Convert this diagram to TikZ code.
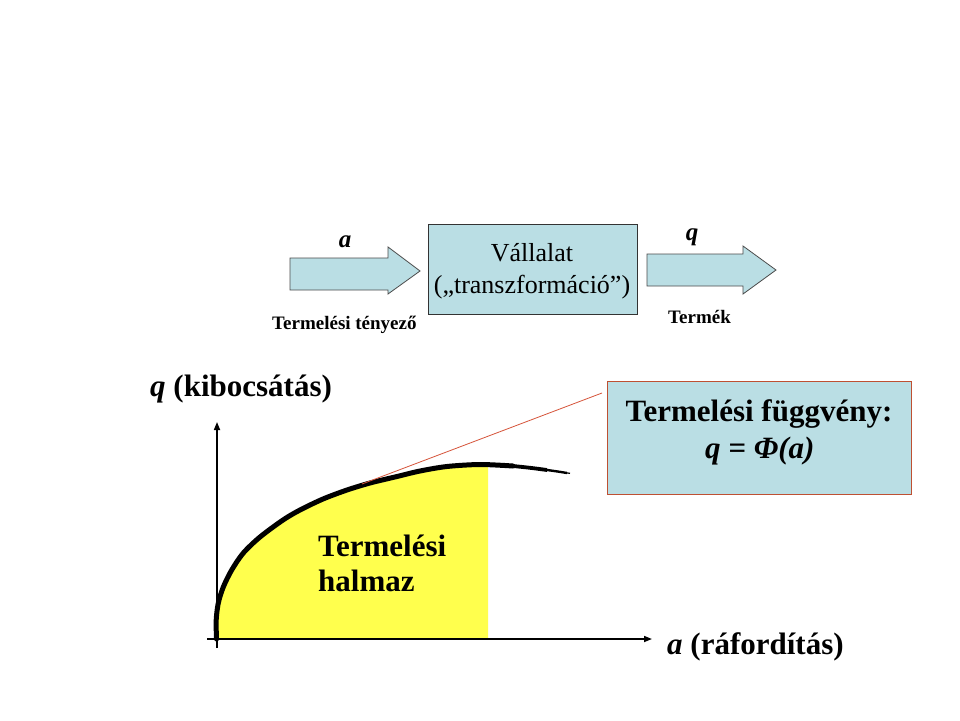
\documentclass[tikz,border=0pt]{standalone}
\usepackage{fontspec}
\setmainfont{Liberation Serif}
\usetikzlibrary{arrows.meta}
\definecolor{lblue}{RGB}{186,222,228}
\definecolor{hyellow}{RGB}{255,255,77}
\definecolor{redline}{RGB}{214,84,58}
\definecolor{redbox}{RGB}{190,80,50}
\tikzset{
  big/.style={font=\bfseries\fontsize{31}{36}\selectfont, inner sep=0pt},
  small/.style={font=\bfseries\fontsize{19}{22}\selectfont, inner sep=0pt},
  boxtxt/.style={font=\fontsize{26}{30}\selectfont, inner sep=0pt},
  varlab/.style={font=\bfseries\itshape\fontsize{25}{28}\selectfont, inner sep=0pt},
  blockarrow/.style={fill=lblue, draw=black!70, line width=0.8pt, line join=miter},
  axis/.style={line width=1.6pt, -{Triangle[length=8pt,width=6pt]}}
}
\begin{document}
\begin{tikzpicture}[x=1pt,y=-1pt]
\useasboundingbox (0,0) rectangle (960,720);
\fill[white] (0,0) rectangle (960,720);

% block arrows
\draw[blockarrow] (290,258) -- (388,258) -- (388,247) -- (420,271) -- (388,294) -- (388,290) -- (290,290) -- cycle;
\draw[blockarrow] (647,254) -- (743,254) -- (743,246) -- (776,270) -- (743,294) -- (743,286) -- (647,286) -- cycle;

% firm box
\node[draw=black!80, fill=lblue, line width=0.8pt, minimum width=209pt, minimum height=90pt, inner sep=0pt] (firm) at (532.5,269) {};
\node[boxtxt, anchor=base] (firm1) at (532,261) {Vállalat};
\node[boxtxt, anchor=base] (firm2) at (532,293) {(„transzformáció”)};

\node[varlab, anchor=base] (la) at (345,247) {a};
\node[varlab, anchor=base] (lq) at (692,240) {q};
\node[small, anchor=base west] (lin) at (272,329) {Termelési tényező};
\node[small, anchor=base west] (lout) at (668,323) {Termék};

\def\curvepts{(216.5,639) (216.2,620) (218.3,603) (223.3,587) (231.7,570) (243.3,553) (260,537) (283,520) (300,510) (323,499) (347,490) (370,483) (397,476.5) (420,471) (447,466.5) (480,464.5) (513,466)}

% yellow set
\begin{scope}
\clip (217,300) rectangle (488,639);
\fill[hyellow] plot[smooth, tension=0.5] coordinates {\curvepts (547,470)} -- (547,639) -- cycle;
\end{scope}

% axes
\coordinate (ytop) at (217,422);
\coordinate (ybot) at (217,648);
\coordinate (xl) at (207,639);
\coordinate (xr) at (652,639);
\draw[axis] (ybot) -- (ytop);
\draw[axis] (xl) -- (xr);

% curve
\draw[line width=5pt, line cap=round] plot[smooth, tension=0.5] coordinates {\curvepts};
\draw[line width=3.8pt] plot[smooth, tension=0.6] coordinates {(511,465.8) (530,467.8) (547,470)};
\draw[line width=2.4pt] plot[smooth, tension=0.6] coordinates {(545,469.7) (557,471.4) (567,473)};
\draw[line width=1.2pt] (565,472.7) -- (570,473.3);

% function box
\node[draw=redbox, fill=lblue, line width=0.8pt, minimum width=304pt, minimum height=113pt, inner sep=0pt] (fbox) at (759,437.5) {};
\node[big, anchor=base] (f1) at (759,421) {Termelési függvény:};
\node[big, anchor=base west] (f2) at (705,458) {\itshape q = Φ(a)};
\coordinate (tan) at (362,484);
\draw[redline, line width=0.8pt] (tan) -- (602,393);

\node[big, anchor=base west] (ylab) at (150,396) {\itshape q\upshape{} (kibocsátás)};
\node[big, anchor=base west] (xlab) at (667,654) {\itshape a\upshape{} (ráfordítás)};
\node[big, anchor=base west] (h1) at (318,556) {Termelési};
\node[big, anchor=base west] (h2) at (318,591) {halmaz};
\end{tikzpicture}
\end{document}
